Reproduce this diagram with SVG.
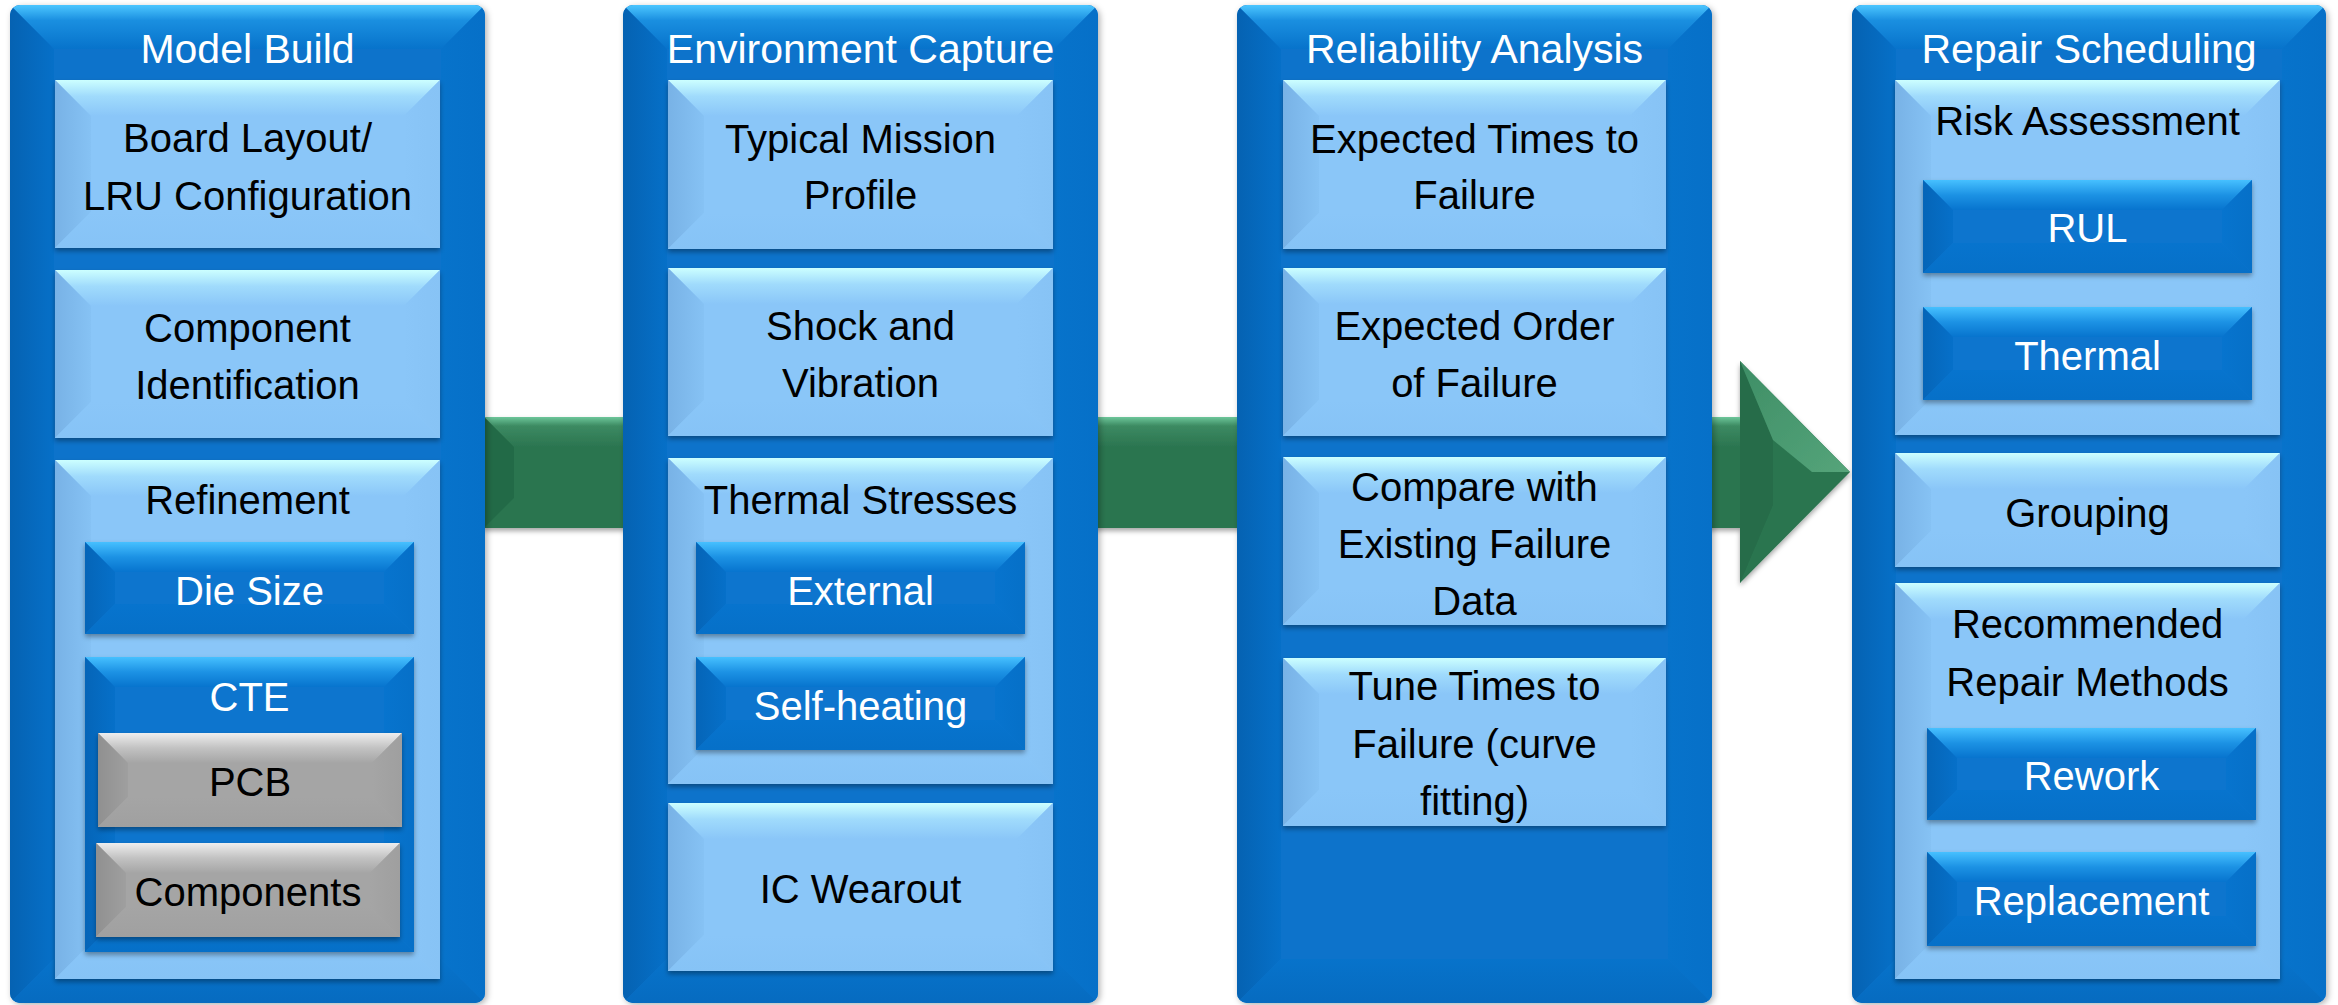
<svg xmlns="http://www.w3.org/2000/svg" width="2338" height="1005" viewBox="0 0 2338 1005">
<defs>
<style>
.ob{fill:#0773CB}
.lb{fill:#8AC6F8}
.bb{fill:#0774CE}
.gb{fill:#A5A5A5}
.tO{fill:url(#tO)} .lO{fill:url(#lO)} .rO{fill:url(#rO)} .bO{fill:url(#bO)}
.tL{fill:url(#tL)} .lL{fill:url(#lL)} .rL{fill:url(#rL)} .bL{fill:url(#bL)}
.tB{fill:url(#tB)} .lB{fill:url(#lB)} .rB{fill:url(#rB)} .bB{fill:url(#bB)}
.tG{fill:url(#tG)} .lG{fill:url(#lG)} .rG{fill:url(#rG)} .bG{fill:url(#bG)}
.sh{filter:url(#sh)}
.csh{filter:url(#csh)}
text{font-family:"Liberation Sans",Arial,sans-serif;text-anchor:middle}
.tt{font-size:41px;fill:#FFFFFF}
.tk{font-size:40px;fill:#000000}
.tw{font-size:40px;fill:#FFFFFF}
</style>
<filter id="sh" x="-5%" y="-10%" width="110%" height="130%"><feDropShadow dx="0" dy="3" stdDeviation="2.5" flood-color="#000" flood-opacity="0.35"/></filter>
<filter id="csh" x="-5%" y="-5%" width="110%" height="110%"><feDropShadow dx="2" dy="2" stdDeviation="3" flood-color="#000" flood-opacity="0.3"/></filter>
<linearGradient id="tO" x1="0" y1="0" x2="0" y2="1"><stop offset="0" stop-color="#4CC6FF"/><stop offset="0.35" stop-color="#1A8FE0"/><stop offset="1" stop-color="#0773CB"/></linearGradient>
<linearGradient id="lO" x1="0" y1="0" x2="1" y2="0"><stop offset="0" stop-color="#0562B2"/><stop offset="1" stop-color="#0670C8"/></linearGradient>
<linearGradient id="rO" x1="0" y1="0" x2="1" y2="0"><stop offset="0" stop-color="#0773CB"/><stop offset="1" stop-color="#0670C8"/></linearGradient>
<linearGradient id="bO" x1="0" y1="0" x2="0" y2="1"><stop offset="0" stop-color="#0773CB"/><stop offset="1" stop-color="#066BC0"/></linearGradient>
<linearGradient id="tL" x1="0" y1="0" x2="0" y2="1"><stop offset="0" stop-color="#CCFFFF"/><stop offset="0.45" stop-color="#A0DBFC"/><stop offset="1" stop-color="#8AC6F8"/></linearGradient>
<linearGradient id="lL" x1="0" y1="0" x2="1" y2="0"><stop offset="0" stop-color="#78B2E6"/><stop offset="1" stop-color="#86C2F4"/></linearGradient>
<linearGradient id="rL" x1="0" y1="0" x2="1" y2="0"><stop offset="0" stop-color="#8AC6F8"/><stop offset="1" stop-color="#87C3F5"/></linearGradient>
<linearGradient id="bL" x1="0" y1="0" x2="0" y2="1"><stop offset="0" stop-color="#8AC6F8"/><stop offset="1" stop-color="#86C3F6"/></linearGradient>
<linearGradient id="tB" x1="0" y1="0" x2="0" y2="1"><stop offset="0" stop-color="#46C0FF"/><stop offset="0.5" stop-color="#1C92E4"/><stop offset="1" stop-color="#0774CE"/></linearGradient>
<linearGradient id="lB" x1="0" y1="0" x2="1" y2="0"><stop offset="0" stop-color="#0565B8"/><stop offset="1" stop-color="#0670C9"/></linearGradient>
<linearGradient id="rB" x1="0" y1="0" x2="1" y2="0"><stop offset="0" stop-color="#0774CE"/><stop offset="1" stop-color="#0670C8"/></linearGradient>
<linearGradient id="bB" x1="0" y1="0" x2="0" y2="1"><stop offset="0" stop-color="#0774CE"/><stop offset="1" stop-color="#0670C8"/></linearGradient>
<linearGradient id="tG" x1="0" y1="0" x2="0" y2="1"><stop offset="0" stop-color="#EEEEEE"/><stop offset="0.5" stop-color="#C2C2C2"/><stop offset="1" stop-color="#A5A5A5"/></linearGradient>
<linearGradient id="lG" x1="0" y1="0" x2="1" y2="0"><stop offset="0" stop-color="#909090"/><stop offset="1" stop-color="#9F9F9F"/></linearGradient>
<linearGradient id="rG" x1="0" y1="0" x2="1" y2="0"><stop offset="0" stop-color="#A5A5A5"/><stop offset="1" stop-color="#9F9F9F"/></linearGradient>
<linearGradient id="bG" x1="0" y1="0" x2="0" y2="1"><stop offset="0" stop-color="#A5A5A5"/><stop offset="1" stop-color="#A0A0A0"/></linearGradient>
<linearGradient id="gShaft" x1="0" y1="0" x2="0" y2="1"><stop offset="0" stop-color="#6DC69A"/><stop offset="0.3" stop-color="#3C8A62"/><stop offset="1" stop-color="#2B7550"/></linearGradient>
<linearGradient id="gHead" x1="0" y1="0" x2="1" y2="1"><stop offset="0" stop-color="#3E8E66"/><stop offset="1" stop-color="#55A47A"/></linearGradient>
<clipPath id="cc1"><rect x="10" y="5" width="475" height="998" rx="10"/></clipPath>
<clipPath id="cc2"><rect x="623" y="5" width="475" height="998" rx="10"/></clipPath>
<clipPath id="cc3"><rect x="1237" y="5" width="475" height="998" rx="10"/></clipPath>
<clipPath id="cc4"><rect x="1852" y="5" width="474" height="998" rx="10"/></clipPath>
</defs>
<rect x="0" y="0" width="2338" height="1005" fill="#FFFFFF"/>

<g id="connectors">
<g id="flow-arrow" class="sh">
<polygon points="484,417 1740,417 1740,361 1850,472 1740,583 1740,528 484,528" fill="#2B7550"/>
<polygon points="484,417 1740,417 1740,447 514,447" fill="url(#gShaft)"/>
<polygon points="484,417 514,447 514,498 484,528" fill="#246A47"/>
<polygon points="1740,361 1773,440 1773,505 1740,583" fill="#266C49"/>
<polygon points="1740,361 1850,472 1812,472 1773,440" fill="url(#gHead)"/>
</g>
</g>

<g id="col-model-build">
<rect class="ob csh" x="10" y="5" width="475" height="998" rx="10"/>
<g clip-path="url(#cc1)">
<polygon class="tO" points="10,5 485,5 441,49 54,49"/>
<polygon class="lO" points="10,5 54,49 54,959 10,1003"/>
<polygon class="rO" points="485,5 485,1003 441,959 441,49"/>
<polygon class="bO" points="10,1003 54,959 441,959 485,1003"/>
</g>
<text class="tt" x="247.5" y="63">Model Build</text>
<g id="board-layout">
<rect class="lb sh" x="55" y="80" width="385" height="168"/>
<polygon class="tL" points="55,80 440,80 404,116 91,116"/>
<polygon class="lL" points="55,80 91,116 91,212 55,248"/>
<polygon class="rL" points="440,80 440,248 404,212 404,116"/>
<polygon class="bL" points="55,248 91,212 404,212 440,248"/>
<text class="tk" x="247.5" y="152">Board Layout/</text>
<text class="tk" x="247.5" y="210">LRU Configuration</text>
</g>
<g id="component-identification">
<rect class="lb sh" x="55" y="270" width="385" height="168"/>
<polygon class="tL" points="55,270 440,270 404,306 91,306"/>
<polygon class="lL" points="55,270 91,306 91,402 55,438"/>
<polygon class="rL" points="440,270 440,438 404,402 404,306"/>
<polygon class="bL" points="55,438 91,402 404,402 440,438"/>
<text class="tk" x="247.5" y="342">Component</text>
<text class="tk" x="247.5" y="399">Identification</text>
</g>
<g id="refinement">
<rect class="lb sh" x="55" y="460" width="385" height="519"/>
<polygon class="tL" points="55,460 440,460 404,496 91,496"/>
<polygon class="lL" points="55,460 91,496 91,943 55,979"/>
<polygon class="rL" points="440,460 440,979 404,943 404,496"/>
<polygon class="bL" points="55,979 91,943 404,943 440,979"/>
<text class="tk" x="247.5" y="514">Refinement</text>
<g id="die-size">
<rect class="bb sh" x="85" y="542" width="329" height="92"/>
<polygon class="tB" points="85,542 414,542 384,572 115,572"/>
<polygon class="lB" points="85,542 115,572 115,604 85,634"/>
<polygon class="rB" points="414,542 414,634 384,604 384,572"/>
<polygon class="bB" points="85,634 115,604 384,604 414,634"/>
<text class="tw" x="249.5" y="605">Die Size</text>
</g>
<g id="cte">
<rect class="bb sh" x="85" y="657" width="329" height="295"/>
<polygon class="tB" points="85,657 414,657 384,687 115,687"/>
<polygon class="lB" points="85,657 115,687 115,922 85,952"/>
<polygon class="rB" points="414,657 414,952 384,922 384,687"/>
<polygon class="bB" points="85,952 115,922 384,922 414,952"/>
<text class="tw" x="249.5" y="711">CTE</text>
<g id="pcb">
<rect class="gb sh" x="98" y="733" width="304" height="94"/>
<polygon class="tG" points="98,733 402,733 372,763 128,763"/>
<polygon class="lG" points="98,733 128,763 128,797 98,827"/>
<polygon class="rG" points="402,733 402,827 372,797 372,763"/>
<polygon class="bG" points="98,827 128,797 372,797 402,827"/>
<text class="tk" x="250" y="796">PCB</text>
</g>
<g id="components">
<rect class="gb sh" x="96" y="843" width="304" height="94"/>
<polygon class="tG" points="96,843 400,843 370,873 126,873"/>
<polygon class="lG" points="96,843 126,873 126,907 96,937"/>
<polygon class="rG" points="400,843 400,937 370,907 370,873"/>
<polygon class="bG" points="96,937 126,907 370,907 400,937"/>
<text class="tk" x="248" y="906">Components</text>
</g>
</g>
</g>
</g>

<g id="col-environment-capture">
<rect class="ob csh" x="623" y="5" width="475" height="998" rx="10"/>
<g clip-path="url(#cc2)">
<polygon class="tO" points="623,5 1098,5 1054,49 667,49"/>
<polygon class="lO" points="623,5 667,49 667,959 623,1003"/>
<polygon class="rO" points="1098,5 1098,1003 1054,959 1054,49"/>
<polygon class="bO" points="623,1003 667,959 1054,959 1098,1003"/>
</g>
<text class="tt" x="860.5" y="63">Environment Capture</text>
<g id="typical-mission-profile">
<rect class="lb sh" x="668" y="80" width="385" height="169"/>
<polygon class="tL" points="668,80 1053,80 1017,116 704,116"/>
<polygon class="lL" points="668,80 704,116 704,213 668,249"/>
<polygon class="rL" points="1053,80 1053,249 1017,213 1017,116"/>
<polygon class="bL" points="668,249 704,213 1017,213 1053,249"/>
<text class="tk" x="860.5" y="153">Typical Mission</text>
<text class="tk" x="860.5" y="209">Profile</text>
</g>
<g id="shock-vibration">
<rect class="lb sh" x="668" y="268" width="385" height="168"/>
<polygon class="tL" points="668,268 1053,268 1017,304 704,304"/>
<polygon class="lL" points="668,268 704,304 704,400 668,436"/>
<polygon class="rL" points="1053,268 1053,436 1017,400 1017,304"/>
<polygon class="bL" points="668,436 704,400 1017,400 1053,436"/>
<text class="tk" x="860.5" y="340">Shock and</text>
<text class="tk" x="860.5" y="397">Vibration</text>
</g>
<g id="thermal-stresses">
<rect class="lb sh" x="668" y="458" width="385" height="326"/>
<polygon class="tL" points="668,458 1053,458 1017,494 704,494"/>
<polygon class="lL" points="668,458 704,494 704,748 668,784"/>
<polygon class="rL" points="1053,458 1053,784 1017,748 1017,494"/>
<polygon class="bL" points="668,784 704,748 1017,748 1053,784"/>
<text class="tk" x="860.5" y="514">Thermal Stresses</text>
<g id="external">
<rect class="bb sh" x="696" y="542" width="329" height="92"/>
<polygon class="tB" points="696,542 1025,542 995,572 726,572"/>
<polygon class="lB" points="696,542 726,572 726,604 696,634"/>
<polygon class="rB" points="1025,542 1025,634 995,604 995,572"/>
<polygon class="bB" points="696,634 726,604 995,604 1025,634"/>
<text class="tw" x="860.5" y="605">External</text>
</g>
<g id="self-heating">
<rect class="bb sh" x="696" y="657" width="329" height="93"/>
<polygon class="tB" points="696,657 1025,657 995,687 726,687"/>
<polygon class="lB" points="696,657 726,687 726,720 696,750"/>
<polygon class="rB" points="1025,657 1025,750 995,720 995,687"/>
<polygon class="bB" points="696,750 726,720 995,720 1025,750"/>
<text class="tw" x="860.5" y="720">Self-heating</text>
</g>
</g>
<g id="ic-wearout">
<rect class="lb sh" x="668" y="803" width="385" height="168"/>
<polygon class="tL" points="668,803 1053,803 1017,839 704,839"/>
<polygon class="lL" points="668,803 704,839 704,935 668,971"/>
<polygon class="rL" points="1053,803 1053,971 1017,935 1017,839"/>
<polygon class="bL" points="668,971 704,935 1017,935 1053,971"/>
<text class="tk" x="860.5" y="903">IC Wearout</text>
</g>
</g>

<g id="col-reliability-analysis">
<rect class="ob csh" x="1237" y="5" width="475" height="998" rx="10"/>
<g clip-path="url(#cc3)">
<polygon class="tO" points="1237,5 1712,5 1668,49 1281,49"/>
<polygon class="lO" points="1237,5 1281,49 1281,959 1237,1003"/>
<polygon class="rO" points="1712,5 1712,1003 1668,959 1668,49"/>
<polygon class="bO" points="1237,1003 1281,959 1668,959 1712,1003"/>
</g>
<text class="tt" x="1474.5" y="63">Reliability Analysis</text>
<g id="expected-times">
<rect class="lb sh" x="1283" y="80" width="383" height="169"/>
<polygon class="tL" points="1283,80 1666,80 1630,116 1319,116"/>
<polygon class="lL" points="1283,80 1319,116 1319,213 1283,249"/>
<polygon class="rL" points="1666,80 1666,249 1630,213 1630,116"/>
<polygon class="bL" points="1283,249 1319,213 1630,213 1666,249"/>
<text class="tk" x="1474.5" y="153">Expected Times to</text>
<text class="tk" x="1474.5" y="209">Failure</text>
</g>
<g id="expected-order">
<rect class="lb sh" x="1283" y="268" width="383" height="168"/>
<polygon class="tL" points="1283,268 1666,268 1630,304 1319,304"/>
<polygon class="lL" points="1283,268 1319,304 1319,400 1283,436"/>
<polygon class="rL" points="1666,268 1666,436 1630,400 1630,304"/>
<polygon class="bL" points="1283,436 1319,400 1630,400 1666,436"/>
<text class="tk" x="1474.5" y="340">Expected Order</text>
<text class="tk" x="1474.5" y="397">of Failure</text>
</g>
<g id="compare-existing">
<rect class="lb sh" x="1283" y="457" width="383" height="168"/>
<polygon class="tL" points="1283,457 1666,457 1630,493 1319,493"/>
<polygon class="lL" points="1283,457 1319,493 1319,589 1283,625"/>
<polygon class="rL" points="1666,457 1666,625 1630,589 1630,493"/>
<polygon class="bL" points="1283,625 1319,589 1630,589 1666,625"/>
<text class="tk" x="1474.5" y="501">Compare with</text>
<text class="tk" x="1474.5" y="558">Existing Failure</text>
<text class="tk" x="1474.5" y="615">Data</text>
</g>
<g id="tune-times">
<rect class="lb sh" x="1283" y="658" width="383" height="168"/>
<polygon class="tL" points="1283,658 1666,658 1630,694 1319,694"/>
<polygon class="lL" points="1283,658 1319,694 1319,790 1283,826"/>
<polygon class="rL" points="1666,658 1666,826 1630,790 1630,694"/>
<polygon class="bL" points="1283,826 1319,790 1630,790 1666,826"/>
<text class="tk" x="1474.5" y="700">Tune Times to</text>
<text class="tk" x="1474.5" y="758">Failure (curve</text>
<text class="tk" x="1474.5" y="815">fitting)</text>
</g>
</g>

<g id="col-repair-scheduling">
<rect class="ob csh" x="1852" y="5" width="474" height="998" rx="10"/>
<g clip-path="url(#cc4)">
<polygon class="tO" points="1852,5 2326,5 2282,49 1896,49"/>
<polygon class="lO" points="1852,5 1896,49 1896,959 1852,1003"/>
<polygon class="rO" points="2326,5 2326,1003 2282,959 2282,49"/>
<polygon class="bO" points="1852,1003 1896,959 2282,959 2326,1003"/>
</g>
<text class="tt" x="2089" y="63">Repair Scheduling</text>
<g id="risk-assessment">
<rect class="lb sh" x="1895" y="80" width="385" height="355"/>
<polygon class="tL" points="1895,80 2280,80 2244,116 1931,116"/>
<polygon class="lL" points="1895,80 1931,116 1931,399 1895,435"/>
<polygon class="rL" points="2280,80 2280,435 2244,399 2244,116"/>
<polygon class="bL" points="1895,435 1931,399 2244,399 2280,435"/>
<text class="tk" x="2087.5" y="135">Risk Assessment</text>
<g id="rul">
<rect class="bb sh" x="1923" y="180" width="329" height="93"/>
<polygon class="tB" points="1923,180 2252,180 2222,210 1953,210"/>
<polygon class="lB" points="1923,180 1953,210 1953,243 1923,273"/>
<polygon class="rB" points="2252,180 2252,273 2222,243 2222,210"/>
<polygon class="bB" points="1923,273 1953,243 2222,243 2252,273"/>
<text class="tw" x="2087.5" y="242">RUL</text>
</g>
<g id="thermal">
<rect class="bb sh" x="1923" y="307" width="329" height="93"/>
<polygon class="tB" points="1923,307 2252,307 2222,337 1953,337"/>
<polygon class="lB" points="1923,307 1953,337 1953,370 1923,400"/>
<polygon class="rB" points="2252,307 2252,400 2222,370 2222,337"/>
<polygon class="bB" points="1923,400 1953,370 2222,370 2252,400"/>
<text class="tw" x="2087.5" y="370">Thermal</text>
</g>
</g>
<g id="grouping">
<rect class="lb sh" x="1895" y="453" width="385" height="114"/>
<polygon class="tL" points="1895,453 2280,453 2244,489 1931,489"/>
<polygon class="lL" points="1895,453 1931,489 1931,531 1895,567"/>
<polygon class="rL" points="2280,453 2280,567 2244,531 2244,489"/>
<polygon class="bL" points="1895,567 1931,531 2244,531 2280,567"/>
<text class="tk" x="2087.5" y="527">Grouping</text>
</g>
<g id="recommended-repair">
<rect class="lb sh" x="1895" y="583" width="385" height="396"/>
<polygon class="tL" points="1895,583 2280,583 2244,619 1931,619"/>
<polygon class="lL" points="1895,583 1931,619 1931,943 1895,979"/>
<polygon class="rL" points="2280,583 2280,979 2244,943 2244,619"/>
<polygon class="bL" points="1895,979 1931,943 2244,943 2280,979"/>
<text class="tk" x="2087.5" y="638">Recommended</text>
<text class="tk" x="2087.5" y="696">Repair Methods</text>
<g id="rework">
<rect class="bb sh" x="1927" y="728" width="329" height="92"/>
<polygon class="tB" points="1927,728 2256,728 2226,758 1957,758"/>
<polygon class="lB" points="1927,728 1957,758 1957,790 1927,820"/>
<polygon class="rB" points="2256,728 2256,820 2226,790 2226,758"/>
<polygon class="bB" points="1927,820 1957,790 2226,790 2256,820"/>
<text class="tw" x="2091.5" y="790">Rework</text>
</g>
<g id="replacement">
<rect class="bb sh" x="1927" y="852" width="329" height="94"/>
<polygon class="tB" points="1927,852 2256,852 2226,882 1957,882"/>
<polygon class="lB" points="1927,852 1957,882 1957,916 1927,946"/>
<polygon class="rB" points="2256,852 2256,946 2226,916 2226,882"/>
<polygon class="bB" points="1927,946 1957,916 2226,916 2256,946"/>
<text class="tw" x="2091.5" y="915">Replacement</text>
</g>
</g>
</g>
</svg>
